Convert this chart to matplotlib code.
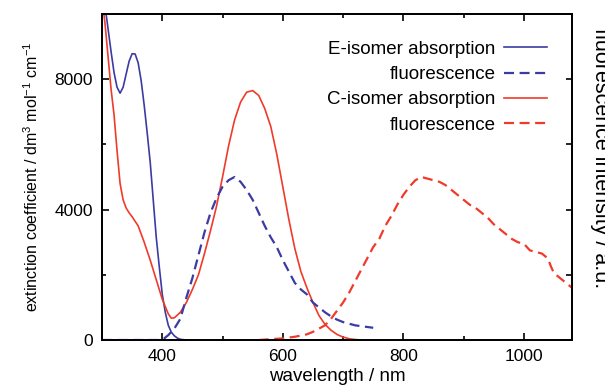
import numpy as np
import matplotlib
matplotlib.use('Agg')
import matplotlib.pyplot as plt
from matplotlib.ticker import MultipleLocator, NullFormatter

plt.rcParams['font.family'] = ['Liberation Sans', 'DejaVu Sans']
plt.rcParams['mathtext.default'] = 'regular'

# E-isomer absorption (extinction coefficient)
wl_e_abs = [300, 305, 310, 315, 320, 325, 330, 335, 340, 345, 350, 355, 360, 365, 370,
            375, 380, 385, 390, 395, 400, 405, 410, 415, 420, 425, 430, 440]
e_abs = [10900, 10250, 9550, 8850, 8200, 7750, 7570, 7750, 8150, 8550, 8780, 8770, 8500,
         7950, 7200, 6350, 5450, 4300, 3150, 2250, 1400, 850, 450, 240, 130, 60, 20, 0]

# C-isomer absorption
wl_c_abs = [300, 305, 310, 315, 320, 325, 330, 335, 340, 345, 350, 360, 370, 380, 390, 400,
            410, 415, 420, 430, 440, 450, 460, 470, 480, 490, 500, 510, 520, 530, 540, 550,
            560, 570, 580, 590, 600, 610, 620, 630, 640, 650, 660, 670, 680, 690, 700, 710,
            720, 730]
c_abs = [10500, 9700, 8700, 7700, 6900, 5800, 4800, 4300, 4050, 3900, 3780, 3500, 3000, 2450,
         1850, 1250, 800, 670, 680, 850, 1150, 1550, 2000, 2650, 3350, 4100, 5000, 5950, 6750,
         7300, 7600, 7650, 7500, 7100, 6550, 5700, 4700, 3700, 2800, 2100, 1600, 1150, 750,
         480, 300, 170, 90, 40, 15, 0]

# E-isomer fluorescence (a.u.)
wl_e_fl = [300, 350, 395, 400, 410, 420, 430, 440, 450, 460, 470, 480, 490, 500, 510, 520,
           530, 540, 550, 560, 570, 580, 590, 600, 610, 620, 630, 640, 650, 660, 670, 680,
           690, 700, 710, 720, 730, 740, 750]
e_fl = [0, 0, 0, 0.0, 0.03, 0.07, 0.13, 0.26, 0.38, 0.52, 0.66, 0.78, 0.87, 0.94, 0.98, 1.00,
        0.97, 0.92, 0.86, 0.78, 0.70, 0.63, 0.57, 0.49, 0.42, 0.35, 0.31, 0.28, 0.23, 0.20,
        0.17, 0.145, 0.125, 0.11, 0.10, 0.09, 0.085, 0.08, 0.075]

# C-isomer fluorescence (a.u.)
wl_c_fl = [560, 580, 600, 620, 640, 650, 660, 670, 680, 690, 700, 710, 720, 730, 740, 750,
           760, 770, 780, 790, 800, 810, 820, 830, 840, 850, 860, 870, 880, 890, 900, 910,
           920, 930, 940, 950, 960, 970, 980, 990, 1000, 1010, 1020, 1030, 1040, 1045, 1050,
           1060, 1070, 1080]
c_fl = [0, 0.005, 0.01, 0.02, 0.035, 0.05, 0.07, 0.09, 0.13, 0.18, 0.23, 0.29, 0.36, 0.43,
        0.50, 0.57, 0.62, 0.70, 0.76, 0.83, 0.89, 0.94, 0.98, 1.00, 0.99, 0.98, 0.97, 0.95,
        0.92, 0.89, 0.86, 0.83, 0.81, 0.78, 0.75, 0.71, 0.68, 0.65, 0.62, 0.60, 0.59, 0.55,
        0.54, 0.53, 0.50, 0.45, 0.41, 0.38, 0.35, 0.32]

blue = '#3b3ba3'
red = '#f03a2a'

fig = plt.figure(figsize=(6.05, 3.91), dpi=100)
ax = fig.add_axes([0.1686, 0.1304, 0.777, 0.834])
ax2 = ax.twinx()

l1, = ax.plot(wl_e_abs, e_abs, color=blue, lw=1.2)
l3, = ax.plot(wl_c_abs, c_abs, color=red, lw=1.2)
l2, = ax2.plot(wl_e_fl, e_fl, color=blue, lw=1.6, ls=(0, (4.5, 2.5)))
l4, = ax2.plot(wl_c_fl, c_fl, color=red, lw=1.6, ls=(0, (4.5, 2.5)))

ax.set_xlim(300, 1080)
ax.set_ylim(0, 10000)
ax2.set_ylim(0, 2.0)

ax.xaxis.set_major_locator(MultipleLocator(200))
ax.xaxis.set_minor_locator(MultipleLocator(100))
ax.yaxis.set_major_locator(MultipleLocator(4000))
ax.yaxis.set_minor_locator(MultipleLocator(2000))
ax2.yaxis.set_major_locator(MultipleLocator(0.4))
ax2.yaxis.set_major_formatter(NullFormatter())

ax.tick_params(which='both', direction='in', top=True, right=False, labelsize=12.5, width=1.2)
ax.tick_params(which='major', length=5, pad=6.5)
ax.tick_params(which='minor', length=3)
ax2.tick_params(which='both', direction='in', length=4, width=1.2)
for a in (ax, ax2):
    for s in a.spines.values():
        s.set_linewidth(1.3)

ax.set_xlabel('wavelength / nm', fontsize=13.5, labelpad=3)
ax.set_ylabel('extinction coefficient / dm$^3$ mol$^{-1}$ cm$^{-1}$', fontsize=11.5, labelpad=10)
fig.text(600 / 605, 1 - 158 / 391, 'fluorescence intensity / a.u.', rotation=270,
         ha='center', va='center', fontsize=15.5)

leg = ax.legend([l1, l2, l3, l4],
                ['E-isomer absorption', 'fluorescence', 'C-isomer absorption', 'fluorescence'],
                loc='upper right', bbox_to_anchor=(0.966, 0.946), markerfirst=False, frameon=False,
                fontsize=13.5, handlelength=2.3, labelspacing=0.43, handletextpad=0.43,
                borderpad=0)
for t in leg.get_texts():
    t.set_ha('right')

fig.savefig('out.png', dpi=100)
